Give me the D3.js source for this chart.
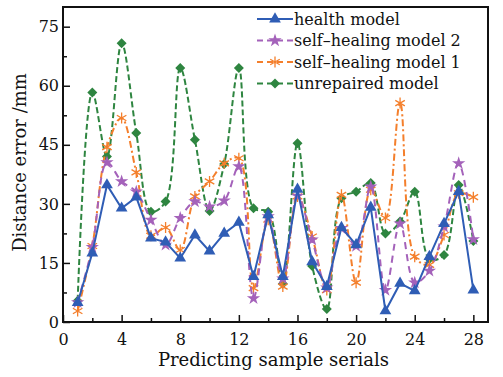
<!DOCTYPE html>
<html>
<head>
<meta charset="utf-8">
<script src="https://cdn.jsdelivr.net/npm/d3@7"></script>
<style>
  body { margin: 0; background: #fff; }
  svg { display: block; }
  text { font-family: "DejaVu Serif", serif; fill: #111; }
</style>
</head>
<body>
<svg id="chart" width="503" height="377"></svg>
<script>
// sample serials 1..28
const samples = d3.range(1, 29);

const healthModel = [4.9, 17.5, 34.8, 28.9, 31.7, 21.3, 20.3, 16.2, 22.1, 18, 22.5, 25.3, 11.5, 27.2,
    11.5, 33.7, 15.3, 9, 24, 19.6, 29.1, 2.8, 9.8, 7.9, 16.6, 25, 33.1, 8.1];
const selfHealing2 = [5, 19, 40.5, 35.7, 33.1, 25.9, 19.6, 26.4, 30.6, 29.3, 30.8, 39.5, 6, 26.8,
    11, 32, 20.9, 8.7, 23.8, 19.3, 34.4, 8.1, 25, 10, 13, 24.2, 40.3, 21];
const selfHealing1 = [2.8, 19.3, 44.4, 51.8, 38, 21.9, 24, 18.3, 31.9, 35.7, 40.3, 41.6, 8.6, 26,
    9, 31.9, 21.7, 8.1, 32.3, 10, 33.6, 26.4, 55.6, 16.6, 14.5, 22.1, 32.7, 31.7];
const unrepaired = [5.4, 58.3, 42, 70.8, 48, 28, 30.6, 64.5, 46.3, 28.2, 40.1, 64.5, 28.9, 28,
    9.7, 45.4, 14.2, 3.3, 31.4, 33.1, 35.3, 22.5, 25.5, 33.1, 16, 17, 34.8, 20.6];

const xTicks = [0, 4, 8, 12, 16, 20, 24, 28];
const yTicks = [0, 15, 30, 45, 60, 75];

const margin = { top: 7, right: 15, bottom: 55, left: 63 };
const width = 503, height = 377;
const innerW = width - margin.left - margin.right;
const innerH = height - margin.top - margin.bottom;

const svg = d3.select('#chart');
const g = svg.append('g').attr('transform', `translate(${margin.left},${margin.top})`);

const x = d3.scaleLinear().domain([0, 29]).range([0, innerW]);
const y = d3.scaleLinear().domain([0, 80]).range([innerH, 0]);

// axes (ticks pointing inward)
const xAxis = d3.axisBottom(x).tickValues(xTicks).tickSizeInner(-7).tickSizeOuter(0).tickPadding(12);
const xMinor = d3.axisBottom(x).tickValues(d3.range(2, 29, 4)).tickSizeInner(-4).tickSizeOuter(0).tickFormat('');
const yAxis = d3.axisLeft(y).tickValues(yTicks).tickSizeInner(-7).tickSizeOuter(0).tickPadding(4);
const yMinor = d3.axisLeft(y).tickValues(d3.range(7.5, 80, 15)).tickSizeInner(-4).tickSizeOuter(0).tickFormat('');

function styleAxis(sel) {
    sel.select('.domain').remove();
    sel.selectAll('line').attr('stroke', '#111').attr('stroke-width', 1.5);
    sel.selectAll('text').attr('font-size', 16).style('font-family', '"DejaVu Serif", serif').attr('fill', '#111');
}

g.append('g').attr('transform', `translate(0,${innerH})`).call(xAxis).call(styleAxis);
g.append('g').attr('transform', `translate(0,${innerH})`).call(xMinor).call(styleAxis);
g.append('g').call(yAxis).call(styleAxis);
g.append('g').call(yMinor).call(styleAxis);

const series = [
    { name: 'health model', values: healthModel, color: '#2F5DB5', dash: null, curve: d3.curveLinear, marker: 'triangle' },
    { name: 'self\u2013healing model 2', values: selfHealing2, color: '#A462BA', dash: '7,5', curve: d3.curveCatmullRom, marker: 'star' },
    { name: 'self\u2013healing model 1', values: selfHealing1, color: '#F47F2C', dash: '7,3,2,3', curve: d3.curveCatmullRom, marker: 'asterisk' },
    { name: 'unrepaired model', values: unrepaired, color: '#2E8540', dash: '6,3', curve: d3.curveCatmullRom, marker: 'diamond' }
];

const asteriskPath = (r) => {
    let p = '';
    [90, 30, 150].forEach(a => {
        const rad = a * Math.PI / 180;
        const dx = Math.cos(rad) * r, dy = Math.sin(rad) * r;
        p += `M${-dx},${-dy}L${dx},${dy}`;
    });
    return p;
};

function drawMarker(sel, s) {
    if (s.marker === 'triangle') {
        sel.append('path').attr('d', d3.symbol(d3.symbolTriangle, 60)()).attr('fill', s.color);
    } else if (s.marker === 'star') {
        sel.append('path').attr('d', d3.symbol(d3.symbolStar, 55)()).attr('fill', s.color);
    } else if (s.marker === 'asterisk') {
        sel.append('path').attr('d', asteriskPath(5.5)).attr('stroke', s.color).attr('stroke-width', 1.3).attr('fill', 'none');
    } else {
        sel.append('path').attr('d', d3.symbol(d3.symbolSquare, 50)()).attr('transform', 'rotate(45)').attr('fill', s.color);
    }
}

const plot = g.append('g');
series.slice().reverse().forEach(s => {
    const line = d3.line().curve(s.curve).x((d, i) => x(samples[i])).y(d => y(d));
    plot.append('path')
        .datum(s.values)
        .attr('d', line)
        .attr('fill', 'none')
        .attr('stroke', s.color)
        .attr('stroke-width', 2)
        .attr('stroke-dasharray', s.dash);
    plot.selectAll(null)
        .data(s.values)
        .enter()
        .append('g')
        .attr('transform', (d, i) => `translate(${x(samples[i])},${y(d)})`)
        .each(function () { drawMarker(d3.select(this), s); });
});

// frame
g.append('rect')
    .attr('width', innerW)
    .attr('height', innerH)
    .attr('fill', 'none')
    .attr('stroke', '#111')
    .attr('stroke-width', 2);

// legend
const legend = g.append('g').attr('transform', `translate(${257 - margin.left},${19 - margin.top})`);
series.forEach((s, i) => {
    const row = legend.append('g').attr('transform', `translate(0,${i * 21.5})`);
    row.append('line')
        .attr('x1', 0).attr('x2', 36)
        .attr('stroke', s.color)
        .attr('stroke-width', 2)
        .attr('stroke-dasharray', s.dash ? '6,4' : null);
    const m = row.append('g').attr('transform', 'translate(18,0)');
    drawMarker(m, s);
    row.append('text')
        .attr('x', 37)
        .attr('dy', '0.35em')
        .attr('font-size', 16)
        .text(s.name);
});

// axis titles
svg.append('text')
    .attr('x', margin.left + innerW / 2 - 2)
    .attr('y', 366)
    .attr('text-anchor', 'middle')
    .attr('font-size', 18)
    .text('Predicting sample serials');

svg.append('text')
    .attr('transform', `translate(26,${margin.top + innerH / 2 - 2}) rotate(-90)`)
    .attr('text-anchor', 'middle')
    .attr('font-size', 18)
    .text('Distance error /mm');
</script>
</body>
</html>
